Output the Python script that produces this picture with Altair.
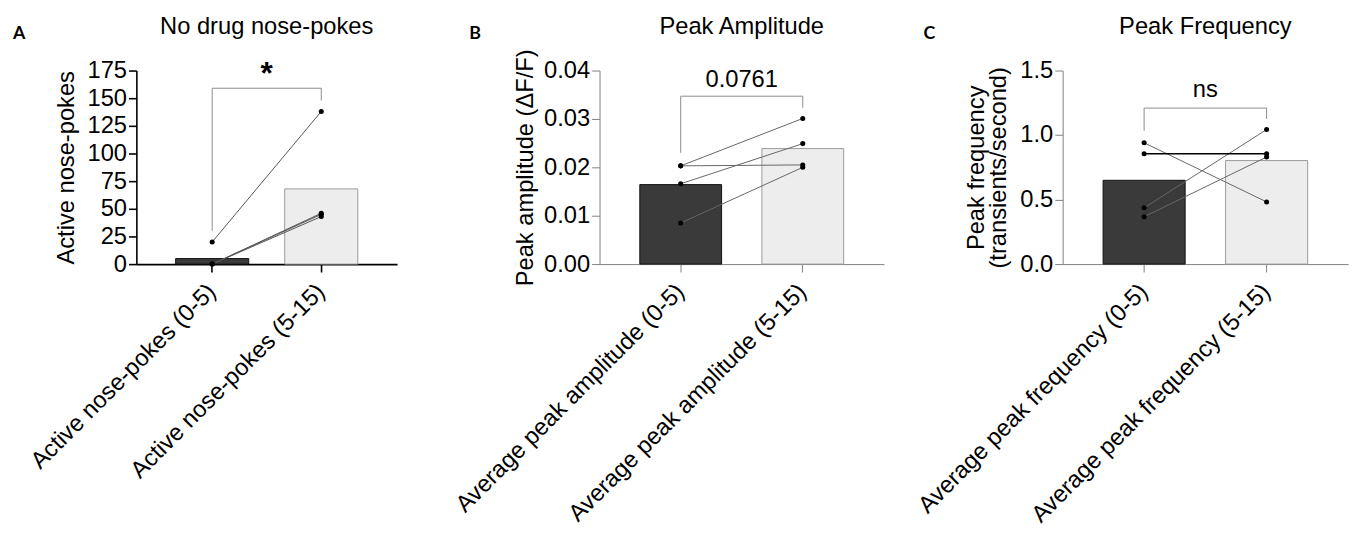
import altair as alt
import pandas as pd

FONT = "Liberation Sans"

# ---------------- Panel A ----------------
a_cats = ["Active nose-pokes (0-5)", "Active nose-pokes (5-15)"]
a_pre = [20, 0, 0, 0]
a_post = [138, 46, 45, 43]
a_ticks = [0, 25, 50, 75, 100, 125, 150, 175]
a_bracket = [30, 159, 148]          # left leg end, top, right leg end
a_sig = "*"
a_sig_y = 163

# ---------------- Panel B ----------------
b_cats = ["Average peak amplitude (0-5)", "Average peak amplitude (5-15)"]
b_pre = [0.0203, 0.0203, 0.0166, 0.0085]
b_post = [0.0301, 0.0205, 0.0249, 0.0200]
b_ticks = [0, 0.01, 0.02, 0.03, 0.04]
b_bracket = [0.0230, 0.0347, 0.0323]
b_sig = "0.0761"
b_sig_y = 0.0367

# ---------------- Panel C ----------------
c_cats = ["Average peak frequency (0-5)", "Average peak frequency (5-15)"]
c_pre = [0.94, 0.855, 0.436, 0.367]
c_post = [0.482, 0.855, 1.043, 0.83]
c_ticks = [0, 0.5, 1.0, 1.5]
c_bracket = [1.033, 1.209, 1.125]
c_sig = "ns"
c_sig_y = 1.293

PAD_INNER = 0.33
GAP = 181


def make_panel(cats, pre, post, ymax, ticks, fmt, ytitle, title, letter,
               bracket, sig, sig_y, sig_size, sig_weight, axis_len, extra,
               pad_outer, axis_color, axis_width, line_color, title_pad,
               black_subject=None, letter_dx=-120):
    rows = []
    for i in range(len(pre)):
        rows.append({"subject": i, "cond": cats[0], "value": pre[i]})
        rows.append({"subject": i, "cond": cats[1], "value": post[i]})
    df = pd.DataFrame(rows)

    br = pd.DataFrame({
        "cond": [cats[0], cats[0], cats[1], cats[1]],
        "value": [bracket[0], bracket[1], bracket[1], bracket[2]],
        "order": [0, 1, 2, 3],
    })
    sig_df = pd.DataFrame({"cond": [cats[0]], "value": [sig_y], "label": [sig]})
    letter_df = pd.DataFrame({"t": [letter]})

    xscale = alt.Scale(domain=cats, paddingInner=PAD_INNER, paddingOuter=pad_outer,
                       range=[0, axis_len])
    xaxis = alt.Axis(
        title=None, labelAngle=-45, labelAlign="right", labelBaseline="middle",
        labelFontSize=24, labelFont=FONT, labelColor="black", labelLimit=600,
        labelPadding=16, domainColor=axis_color, domainWidth=axis_width,
        tickColor=axis_color, tickWidth=axis_width, tickSize=8, grid=False,
    )
    yscale = alt.Scale(domain=[0, ymax], nice=False, zero=True)
    yaxis = alt.Axis(
        values=ticks, format=fmt, title=ytitle, titleFontSize=24, titleFont=FONT,
        titleFontWeight="normal", titleColor="black", titlePadding=title_pad,
        titleLineHeight=22,
        labelFontSize=24, labelFont=FONT, labelColor="black", labelPadding=2,
        domainColor=axis_color, domainWidth=axis_width, tickColor=axis_color,
        tickWidth=axis_width, tickSize=8, grid=False,
    )
    x = alt.X("cond:N", scale=xscale, sort=cats, axis=xaxis)
    y = alt.Y("value:Q", scale=yscale, axis=yaxis)

    bars = alt.Chart(df).mark_bar(strokeWidth=1).encode(
        x=x,
        y=alt.Y("mean(value):Q", scale=yscale, axis=yaxis),
        color=alt.Color("cond:N", scale=alt.Scale(domain=cats, range=["#3a3a3a", "#ededed"]), legend=None),
        stroke=alt.Stroke("cond:N", scale=alt.Scale(domain=cats, range=["#111111", "#9a9a9a"]), legend=None),
    )

    if black_subject is None:
        lines = alt.Chart(df).mark_line(color=line_color, strokeWidth=1).encode(
            x=x, y=y, detail="subject:N")
        line_layers = [lines]
    else:
        lines = alt.Chart(df).transform_filter(
            alt.datum.subject != black_subject
        ).mark_line(color=line_color, strokeWidth=1).encode(x=x, y=y, detail="subject:N")
        bl = alt.Chart(df).transform_filter(
            alt.datum.subject == black_subject
        ).mark_line(color="black", strokeWidth=1.6).encode(x=x, y=y, detail="subject:N")
        line_layers = [lines, bl]

    pts = alt.Chart(df).mark_circle(color="black", size=26, opacity=1).encode(x=x, y=y)

    bracket_line = alt.Chart(br).mark_line(color="#8a8a8a", strokeWidth=1).encode(
        x=x, y=y, order="order:Q")

    # half a band step: moves the label from the first category to midway
    step = axis_len / (2 - PAD_INNER + 2 * pad_outer)
    sig_text = alt.Chart(sig_df).mark_text(
        fontSize=sig_size, font=FONT, fontWeight=sig_weight, baseline="alphabetic",
        align="center", color="black", dx=step / 2
    ).encode(x=x, y=y, text="label:N")

    letter_text = alt.Chart(letter_df).mark_text(
        fontSize=18, font="Lato", fontWeight="bold", align="left", baseline="middle",
        color="black"
    ).encode(text="t:N", x=alt.value(letter_dx), y=alt.value(-37))

    return alt.layer(bars, *line_layers, pts, bracket_line, sig_text, letter_text).properties(
        width=axis_len + extra, height=196,
        title=alt.TitleParams(text=title, fontSize=24, font=FONT, fontWeight="normal",
                              anchor="middle", frame="group", color="black", offset=0,
                              dy=14, dx=-extra / 2),
    )


pA = make_panel(a_cats, a_pre, a_post, 175, a_ticks, "d", "Active nose-pokes",
                "No drug nose-pokes", "A", a_bracket, a_sig, a_sig_y, 32, "bold",
                264, 24, 0.36, "black", 1.6, "#555555", 9, letter_dx=-125)
pB = make_panel(b_cats, b_pre, b_post, 0.04, b_ticks, ".2f", "Peak amplitude (ΔF/F)",
                "Peak Amplitude", "B", b_bracket, b_sig, b_sig_y, 24, "normal",
                288, 0, 0.33, "#808080", 1, "#666666", 6, letter_dx=-132)
pC = make_panel(c_cats, c_pre, c_post, 1.5, c_ticks, ".1f",
                ["Peak frequency", "(transients/second)"],
                "Peak Frequency", "C", c_bracket, c_sig, c_sig_y, 24, "normal",
                289, 0, 0.33, "#808080", 1, "#666666", 10, black_subject=1, letter_dx=-141)

chart = alt.hconcat(pA, pB, pC, spacing=GAP, bounds="flush").properties(
    padding={"left": 5, "top": 4, "right": 5, "bottom": 5}
).configure_view(stroke=None)

chart.save("out.html", embed_options={"renderer": "svg", "actions": False})
